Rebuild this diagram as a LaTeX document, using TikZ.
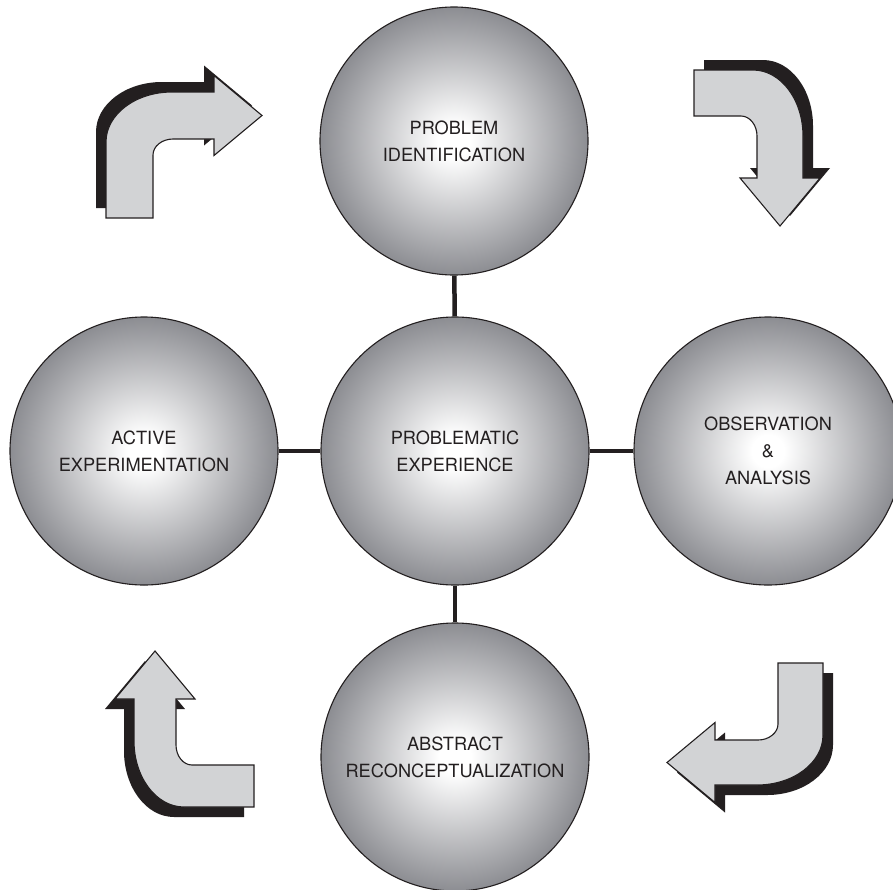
\documentclass[tikz,border=0pt]{standalone}
\usepackage{fontspec}
\setmainfont{TeX Gyre Heros}
\definecolor{circgray}{RGB}{140,141,146}
\definecolor{arrowgray}{RGB}{210,211,213}
\definecolor{ink}{RGB}{35,31,32}
\pgfdeclareradialshading{ballshade}{\pgfpoint{0bp}{0bp}}{color(0bp)=(white); color(3bp)=(white); color(25bp)=(circgray); color(50bp)=(circgray)}
% #1 ox, #2 oy, #3 rotation, #4 tail length, #5 shaft width
\newcommand\bentarrow[5]{%
  \begin{scope}[shift={(#1,#2)}, rotate=#3]
    \fill[ink, shift={(-10,-10)}] (0,#4) -- (0,50) .. controls (0,22.4) and (29.5,0) .. (66,0) -- (108,0) -- (108,{#5/2-40}) -- (156,{#5/2}) -- (108,{#5/2+40}) -- (108,#5) -- ({#5+20},#5) .. controls ({#5+9},#5) and (#5,{#5+7.2}) .. (#5,{#5+16}) -- (#5,#4) -- cycle;
    \draw[fill=arrowgray, draw=ink, line width=1.1, line join=miter] (0,#4) -- (0,50) .. controls (0,22.4) and (29.5,0) .. (66,0) -- (108,0) -- (108,{#5/2-40}) -- (156,{#5/2}) -- (108,{#5/2+40}) -- (108,#5) -- ({#5+20},#5) .. controls ({#5+9},#5) and (#5,{#5+7.2}) .. (#5,{#5+16}) -- (#5,#4) -- cycle;
  \end{scope}}
\tikzset{
  ball/.style={circle, draw=ink, line width=1.1, shading=ballshade, minimum size=268, inner sep=0,
    align=center, text=ink, font=\fontsize{18.2}{27}\selectfont},
  conn/.style={draw=ink, line width=4.5}
}
\begin{document}
\begin{tikzpicture}[x=1pt, y=-1pt]
  \clip (0,0) rectangle (893,889);
  \useasboundingbox (0,0) rectangle (893,889);
  \fill[white] (0,0) rectangle (893,889);

  \node[ball] (top)    at (454,141) {PROBLEM\\IDENTIFICATION};
  \node[ball] (center) at (455,451) {PROBLEMATIC\\EXPERIENCE};
  \node[ball] (left)   at (144,451) {ACTIVE\\EXPERIMENTATION};
  \node[ball] (right)  at (768,451) {OBSERVATION\\\&\\ANALYSIS};
  \node[ball] (bottom) at (455,757) {ABSTRACT\\RECONCEPTUALIZATION};

  \draw[conn] (top) -- (center);
  \draw[conn] (center) -- (bottom);
  \draw[conn] (left) -- (center);
  \draw[conn] (center) -- (right);

  \bentarrow{106}{92}{0}{126}{47}
  \bentarrow{803}{70}{-90}{109}{46}
  \bentarrow{823}{785}{180}{122}{45}
  \bentarrow{134}{807}{90}{120}{42}
\end{tikzpicture}
\end{document}
